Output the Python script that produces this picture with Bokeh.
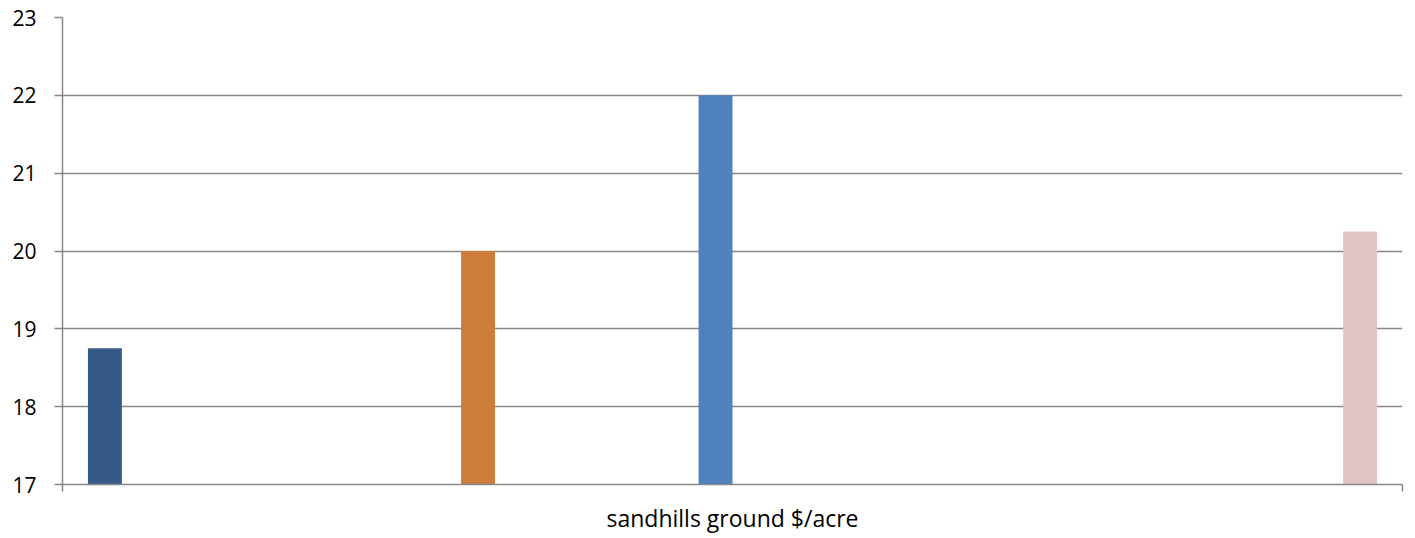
from bokeh.plotting import figure
from bokeh.models import ColumnDataSource, Range1d, FixedTicker
from bokeh.embed import file_html
from bokeh.resources import INLINE

# Data (38 series in one category; only four reach above the 17 axis minimum)
n_series = 38
series_slot = [0, 11, 18, 37]
series_value = [18.75, 20.0, 22.0, 20.25]
series_color = ["#355A87", "#CE7C3A", "#4F81BD", "#E3C4C5"]
category_label = "sandhills ground $/acre"
y_min, y_max = 17, 23
y_ticks = [17, 18, 19, 20, 21, 22, 23]

FONT = "Open Sans"
GRAY = "#878787"

src = ColumnDataSource(dict(x=series_slot, top=series_value, color=series_color))

p = figure(width=1410, height=536, output_backend="svg", toolbar_location=None,
           x_range=Range1d(-1.25, n_series + 0.25), y_range=Range1d(y_min, y_max),
           min_border_left=62, min_border_right=8, min_border_top=17, min_border_bottom=10)
p.outline_line_color = None
p.background_fill_color = "white"
p.border_fill_color = "white"

p.vbar(x="x", top="top", bottom=y_min, width=1.0, fill_color="color",
       line_color=None, source=src)

# grid
p.xgrid.visible = False
p.ygrid.ticker = FixedTicker(ticks=y_ticks)
p.ygrid.grid_line_color = GRAY
p.ygrid.grid_line_width = 1.5

# y axis
p.yaxis.ticker = FixedTicker(ticks=y_ticks)
p.yaxis.axis_line_color = GRAY
p.yaxis.axis_line_width = 1.5
p.yaxis.major_tick_line_color = GRAY
p.yaxis.major_tick_line_width = 1.5
p.yaxis.major_tick_out = 8
p.yaxis.major_tick_in = 0
p.yaxis.minor_tick_line_color = None
p.yaxis.major_label_standoff = 18
p.yaxis.major_label_text_font = FONT
p.yaxis.major_label_text_font_size = "21px"
p.yaxis.major_label_text_color = "#000000"

# x axis
p.xaxis.ticker = FixedTicker(ticks=[-1.25, n_series + 0.25])
p.xaxis.major_label_overrides = {-1.25: "", n_series + 0.25: ""}
p.xaxis.major_label_text_font_size = "1px"
p.xaxis.axis_line_color = GRAY
p.xaxis.axis_line_width = 1.5
p.xaxis.major_tick_line_color = GRAY
p.xaxis.major_tick_line_width = 1.5
p.xaxis.major_tick_out = 7
p.xaxis.major_tick_in = 0
p.xaxis.minor_tick_line_color = None
p.xaxis.axis_label = category_label
p.xaxis.axis_label_text_font = FONT
p.xaxis.axis_label_text_font_size = "23px"
p.xaxis.axis_label_text_font_style = "normal"
p.xaxis.axis_label_text_color = "#000000"
p.xaxis.axis_label_standoff = 10

open("out.html", "w").write(file_html(p, INLINE))
